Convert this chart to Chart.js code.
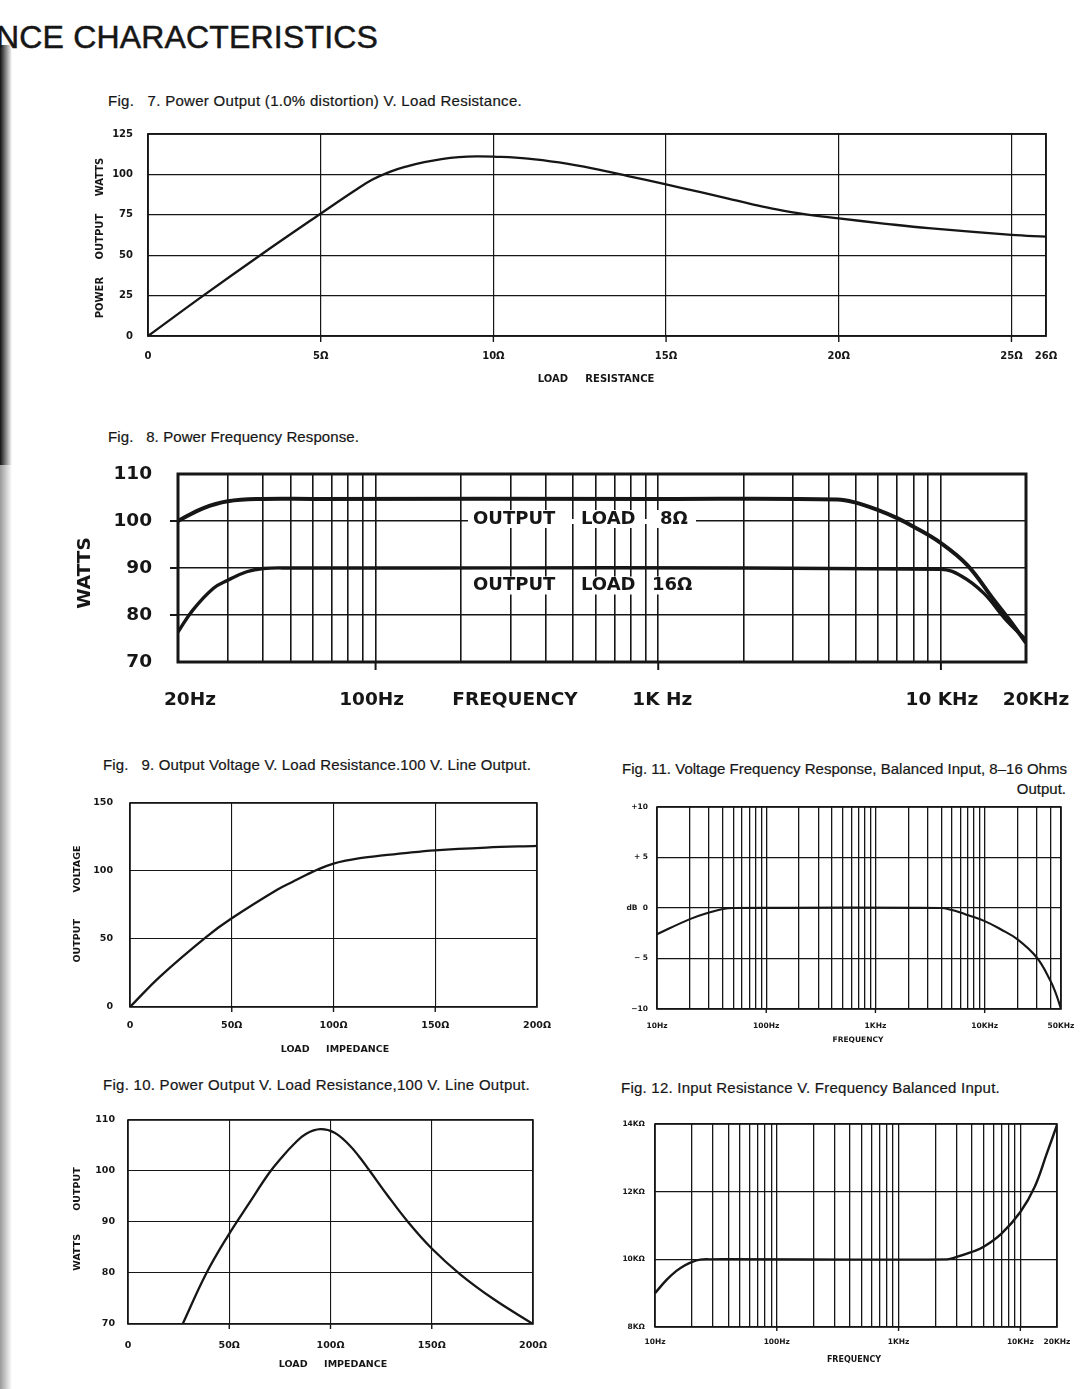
<!DOCTYPE html>
<html lang="en">
<head>
<meta charset="UTF-8">
<title>Performance Characteristics</title>
<script src="https://cdn.jsdelivr.net/npm/chart.js"></script>
<style>
    body { margin: 0; width: 1086px; height: 1389px; position: relative; overflow: hidden; background: #fff; color: #161616; font-family: "Liberation Sans", Arial, sans-serif; }
    .cap { position: absolute; white-space: pre; font-size: 15px; line-height: 16px; -webkit-text-stroke: 0.2px #161616; }
    .head { position: absolute; left: -4px; top: 19px; font-size: 32px; line-height: 36px; white-space: pre; -webkit-text-stroke: 0.5px #161616; }
    .edge { position: absolute; left: 0; width: 12px; }
    canvas { position: absolute; }
</style>
</head>
<body>
<div class="edge" style="top:45px;height:420px;background:linear-gradient(to right,#111,rgba(0,0,0,0))"></div>
<div class="edge" style="top:465px;height:924px;background:linear-gradient(to right,#999,rgba(255,255,255,0))"></div>
<div class="head fit" data-w="382">NCE CHARACTERISTICS</div>
<div class="cap fit" data-w="414" style="left:108px;top:93px">Fig.   7. Power Output (1.0% distortion) V. Load Resistance.</div>
<div class="cap fit" data-w="251" style="left:108px;top:429px">Fig.   8. Power Frequency Response.</div>
<div class="cap fit" data-w="428" style="left:103px;top:757px">Fig.   9. Output Voltage V. Load Resistance.100 V. Line Output.</div>
<div class="cap fit" data-w="427" style="left:103px;top:1077px">Fig. 10. Power Output V. Load Resistance,100 V. Line Output.</div>
<div class="cap fit" data-w="445" style="left:622px;top:761px">Fig. 11. Voltage Frequency Response, Balanced Input, 8–16 Ohms</div>
<div class="cap" style="right:20px;top:781px">Output.</div>
<div class="cap fit" data-w="379" style="left:621px;top:1080px">Fig. 12. Input Resistance V. Frequency Balanced Input.</div>

<canvas id="fig7" width="1026" height="290" style="left:60px;top:110px"></canvas>
<canvas id="fig8" width="1046" height="280" style="left:40px;top:445px"></canvas>
<canvas id="fig9" width="510" height="275" style="left:55px;top:790px"></canvas>
<canvas id="fig10" width="510" height="280" style="left:55px;top:1105px"></canvas>
<canvas id="fig11" width="491" height="255" style="left:595px;top:795px"></canvas>
<canvas id="fig12" width="491" height="270" style="left:595px;top:1110px"></canvas>

<script>
    // ---- Fig 7: power output (1% distortion) vs load resistance
    const fig7Load  = [0, 1.6, 3.25, 4.95, 6.0, 6.5, 7.0, 7.5, 8.0, 8.5, 9.0, 9.5, 10, 11, 11.9, 12.9, 13.9, 15, 16, 16.8, 17.5, 18.2, 19, 20, 21.3, 22.6, 25, 26];
    const fig7Watts = [0, 25, 50, 75, 90.2, 96.8, 101.6, 105, 107.6, 109.5, 110.7, 111.2, 111, 109.8, 107.4, 103.6, 99, 93.8, 89, 85, 81.5, 78.3, 75.4, 72.8, 69.6, 66.7, 62.6, 61.5];
    const fig7XGrid = [0, 5, 10, 15, 20, 25, 26];
    const fig7XLabels = ['0', '5Ω', '10Ω', '15Ω', '20Ω', '25Ω', '26Ω'];
    const fig7YGrid = [0, 25, 50, 75, 100, 125];
    const fig7YLabels = ['0', '25', '50', '75', '100', '125'];

    // ---- Fig 8: power frequency response
    const fig8Freq8   = [20, 24.5, 30, 40, 60, 1000, 4300, 5000, 6000, 7000, 8000, 10000, 12400, 15400, 17400, 20000];
    const fig8Watts8  = [100, 102.7, 104.2, 104.7, 104.7, 104.7, 104.6, 103.9, 102.3, 100.6, 98.8, 95.3, 90.6, 83.2, 79.1, 74.1];
    const fig8Freq16  = [20, 22.6, 26.7, 30, 35, 40, 50, 10000, 11800, 14200, 16800, 20000];
    const fig8Watts16 = [76.4, 81.1, 85.7, 87.4, 89.2, 89.9, 90, 89.7, 88.3, 84.6, 79.3, 74.7];
    const fig8XGrid = [20, 30, 40, 50, 60, 70, 80, 90, 100, 200, 300, 400, 500, 600, 700, 800, 900,
                       1000, 2000, 3000, 4000, 5000, 6000, 7000, 8000, 9000, 10000, 20000];
    const fig8XTicks = [20, 100, 1000, 10000, 20000];
    const fig8XLabels = ['20Hz', '100Hz', '1K Hz', '10 KHz', '20KHz'];
    const fig8YGrid = [70, 80, 90, 100, 110];
    const fig8YLabels = ['70', '80', '90', '100', '110'];

    // ---- Fig 9: output voltage vs load impedance (100 V line)
    const fig9Load  = [0, 14.75, 37.7, 50, 72.1, 80, 87, 93, 100, 106, 113, 121.3, 135, 150, 175, 200];
    const fig9Volts = [0, 22.4, 51.8, 65.2, 86, 92.1, 97.4, 101.6, 105.4, 107.6, 109.5, 111, 113.2, 115.2, 117.2, 118.5];
    const fig9XGrid = [0, 50, 100, 150, 200];
    const fig9XLabels = ['0', '50Ω', '100Ω', '150Ω', '200Ω'];
    const fig9YGrid = [0, 50, 100, 150];
    const fig9YLabels = ['0', '50', '100', '150'];

    // ---- Fig 10: power output vs load impedance (100 V line)
    const fig10Load  = [27, 38.5, 49.2, 60, 69.7, 76, 82, 88, 95, 102, 109, 114, 118.9, 128, 138.5, 150, 163.9, 180.5, 200];
    const fig10Watts = [70, 79.8, 87.2, 93.8, 99.6, 102.7, 105.3, 107.3, 108.2, 107.5, 105.2, 102.9, 100.3, 95.3, 89.9, 84.8, 79.8, 74.9, 70];
    const fig10XGrid = [0, 50, 100, 150, 200];
    const fig10XLabels = ['0', '50Ω', '100Ω', '150Ω', '200Ω'];
    const fig10YGrid = [70, 80, 90, 100, 110];
    const fig10YLabels = ['70', '80', '90', '100', '110'];

    // ---- Fig 11: voltage frequency response, balanced input
    const fig11Freq = [10, 20, 30, 40, 50, 4000, 5000, 6000, 7000, 10000, 14000, 20000, 30000, 40000, 45000, 50000];
    const fig11dB   = [-2.6, -1.1, -0.45, -0.1, 0, 0, -0.2, -0.45, -0.7, -1.3, -2.1, -3.1, -4.9, -7.2, -8.5, -10];
    const fig11XGrid = [10, 20, 30, 40, 50, 60, 70, 80, 90, 100, 200, 300, 400, 500, 600, 700, 800, 900,
                        1000, 2000, 3000, 4000, 5000, 6000, 7000, 8000, 9000, 10000, 20000, 30000, 40000, 50000];
    const fig11XTicks = [10, 100, 1000, 10000, 50000];
    const fig11XLabels = ['10Hz', '100Hz', '1KHz', '10KHz', '50KHz'];
    const fig11YGrid = [-10, -5, 0, 5, 10];
    const fig11YLabels = ['−10', '− 5', 'dB  0', '+ 5', '+10'];

    // ---- Fig 12: input resistance vs frequency, balanced input
    const fig12Freq  = [10, 12.5, 15, 17.5, 20, 23.5, 28, 2500, 3000, 4000, 5000, 7000, 10000, 13100, 16500, 20000];
    const fig12kOhm  = [9.0, 9.4, 9.66, 9.82, 9.92, 9.99, 10, 10, 10.07, 10.22, 10.37, 10.76, 11.4, 12.14, 13.13, 13.97];
    const fig12XGrid = [10, 20, 30, 40, 50, 60, 70, 80, 90, 100, 200, 300, 400, 500, 600, 700, 800, 900,
                        1000, 2000, 3000, 4000, 5000, 6000, 7000, 8000, 9000, 10000, 20000];
    const fig12XTicks = [10, 100, 1000, 10000, 20000];
    const fig12XLabels = ['10Hz', '100Hz', '1KHz', '10KHz', '20KHz'];
    const fig12YGrid = [8, 10, 12, 14];
    const fig12YLabels = ['8KΩ', '10KΩ', '12KΩ', '14KΩ'];

    const INK = '#161616';
    const bold = px => 'bold ' + px + 'px "DejaVu Sans", sans-serif';

    // stretch the printed captions to the width they have on the page
    document.querySelectorAll('.fit').forEach(el => {
        const w = el.getBoundingClientRect().width;
        el.style.letterSpacing = ((+el.dataset.w - w) / el.textContent.length) + 'px';
    });

    // draws frame, stubs, labels and notes through the chart's scales
    function paper(o) {
        return {
            id: 'paper',
            beforeDatasetsDraw(chart) {
                const ctx = chart.ctx, a = chart.chartArea;
                (o.notes || []).forEach(n => {
                    ctx.save();
                    ctx.font = o.noteFont;
                    ctx.textBaseline = 'middle';
                    const y = a.top + n.dy;
                    if (n.band) {
                        ctx.fillStyle = '#fff';
                        ctx.fillRect(a.left + n.band[0], a.top + n.band[1] - 2.5, n.band[2], 5);
                    }
                    n.words.forEach(w => {
                        const x = a.left + w.dx;
                        const wd = ctx.measureText(w.text).width;
                        ctx.fillStyle = '#fff';
                        ctx.fillRect(x - 4, y - 9, wd + 8, 18);
                        ctx.fillStyle = INK;
                        ctx.fillText(w.text, x, y);
                    });
                    ctx.restore();
                });
            },
            afterDraw(chart) {
                const ctx = chart.ctx, a = chart.chartArea;
                const xs = chart.scales.x, ys = chart.scales.y;
                ctx.save();
                ctx.strokeStyle = INK;
                ctx.lineWidth = o.frame;
                ctx.strokeRect(a.left, a.top, a.right - a.left, a.bottom - a.top);
                ctx.lineWidth = o.stubWidth || 1.4;
                (o.xStubs || []).forEach(v => {
                    const x = xs.getPixelForValue(v);
                    ctx.beginPath(); ctx.moveTo(x, a.bottom); ctx.lineTo(x, a.bottom + o.stubLen); ctx.stroke();
                });
                (o.yStubs || []).forEach(v => {
                    const y = ys.getPixelForValue(v);
                    ctx.beginPath(); ctx.moveTo(a.left, y); ctx.lineTo(a.left - o.stubLen, y); ctx.stroke();
                });
                ctx.fillStyle = INK;
                ctx.font = o.tickFont;
                ctx.textBaseline = 'middle';
                ctx.textAlign = 'right';
                o.yValues.forEach((v, i) => ctx.fillText(o.yTexts[i], a.left - o.yGap, ys.getPixelForValue(v)));
                ctx.textAlign = 'center';
                o.xValues.forEach((v, i) => {
                    const shift = o.xShift ? o.xShift[i] : 0;
                    ctx.fillText(o.xTexts[i], xs.getPixelForValue(v) + shift, a.bottom + o.xGap);
                });
                ctx.font = o.titleFont;
                ctx.fillText(o.xTitle, a.left + o.xTitleAt[0], a.bottom + o.xTitleAt[1]);
                if (o.yTitle) {
                    ctx.translate(a.left + o.yTitleAt[0], a.top + o.yTitleAt[1]);
                    ctx.rotate(-Math.PI / 2);
                    ctx.fillText(o.yTitle, 0, 0);
                }
                ctx.restore();
            }
        };
    }

    function axis(type, min, max, grid, lw) {
        return {
            type: type, min: min, max: max,
            afterBuildTicks: s => { s.ticks = grid.map(v => ({ value: v })); },
            ticks: { display: false },
            grid: { color: INK, lineWidth: lw, drawTicks: false },
            border: { display: false }
        };
    }

    function series(xv, yv, width) {
        return {
            data: xv.map((x, i) => ({ x: x, y: yv[i] })),
            borderColor: INK,
            borderWidth: width,
            pointRadius: 0,
            fill: false,
            tension: 0.4
        };
    }

    // plot box is given in page pixels, canvas position is read from its style
    function draw(id, plot, xAxis, yAxis, datasets, deco) {
        var canvas = document.getElementById(id);
        var cl = parseFloat(canvas.style.left), ct = parseFloat(canvas.style.top);
        return new Chart(canvas, {
            type: 'line',
            data: { datasets: datasets },
            options: {
                responsive: false,
                animation: false,
                devicePixelRatio: 1,
                layout: { padding: {
                    left: plot[0] - cl, top: plot[1] - ct,
                    right: cl + canvas.width - plot[2], bottom: ct + canvas.height - plot[3]
                } },
                plugins: { legend: { display: false }, tooltip: { enabled: false } },
                scales: { x: xAxis, y: yAxis }
            },
            plugins: [paper(deco)]
        });
    }

    draw('fig7', [148, 134, 1046, 336],
        axis('linear', 0, 26, fig7XGrid, 1.2),
        axis('linear', 0, 125, fig7YGrid, 1.2),
        [series(fig7Load, fig7Watts, 2.3)],
        { frame: 1.8, tickFont: bold(10), titleFont: bold(10),
          xValues: fig7XGrid, xTexts: fig7XLabels, xGap: 20,
          yValues: fig7YGrid, yTexts: fig7YLabels, yGap: 15,
          xStubs: [5, 10, 15, 20, 25], stubLen: 6,
          xTitle: 'LOAD     RESISTANCE', xTitleAt: [448, 43],
          yTitle: 'POWER     OUTPUT     WATTS', yTitleAt: [-48, 104] });

    draw('fig8', [178, 474, 1026, 662],
        axis('logarithmic', 20, 20000, fig8XGrid, 1.6),
        axis('linear', 70, 110, fig8YGrid, 1.4),
        [series(fig8Freq8, fig8Watts8, 4), series(fig8Freq16, fig8Watts16, 3.4)],
        { frame: 3, tickFont: bold(18.5), titleFont: bold(18.5), noteFont: bold(18),
          xValues: fig8XTicks, xTexts: fig8XLabels, xGap: 38, xShift: [12, -4, 4, 1, 10],
          yValues: fig8YGrid, yTexts: fig8YLabels, yGap: 26,
          xStubs: [100, 1000, 10000], yStubs: [80, 90, 100], stubLen: 8, stubWidth: 2,
          xTitle: 'FREQUENCY', xTitleAt: [337, 38],
          yTitle: 'WATTS', yTitleAt: [-93, 99],
          notes: [
              { dy: 45, band: [290, 47.5, 228], words: [{ text: 'OUTPUT', dx: 295 }, { text: 'LOAD', dx: 403 }, { text: '8Ω', dx: 482 }] },
              { dy: 111.5, words: [{ text: 'OUTPUT', dx: 295 }, { text: 'LOAD', dx: 403 }, { text: '16Ω', dx: 474 }] }
          ] });

    draw('fig9', [130, 803, 537, 1007],
        axis('linear', 0, 200, fig9XGrid, 1.1),
        axis('linear', 0, 150, fig9YGrid, 1.1),
        [series(fig9Load, fig9Volts, 2.3)],
        { frame: 1.6, tickFont: bold(9.5), titleFont: bold(9.5),
          xValues: fig9XGrid, xTexts: fig9XLabels, xGap: 19,
          yValues: fig9YGrid, yTexts: fig9YLabels, yGap: 17,
          xStubs: [50, 100, 150], stubLen: 5,
          xTitle: 'LOAD     IMPEDANCE', xTitleAt: [205, 43],
          yTitle: 'OUTPUT        VOLTAGE', yTitleAt: [-52, 101] });

    draw('fig10', [128, 1120, 533, 1324],
        axis('linear', 0, 200, fig10XGrid, 1.1),
        axis('linear', 70, 110, fig10YGrid, 1.1),
        [series(fig10Load, fig10Watts, 2.3)],
        { frame: 1.6, tickFont: bold(9.5), titleFont: bold(9.5),
          xValues: fig10XGrid, xTexts: fig10XLabels, xGap: 22,
          yValues: fig10YGrid, yTexts: fig10YLabels, yGap: 13,
          xStubs: [50, 100, 150], stubLen: 5,
          xTitle: 'LOAD     IMPEDANCE', xTitleAt: [205, 41],
          yTitle: 'WATTS       OUTPUT', yTitleAt: [-50, 99] });

    draw('fig11', [657, 807, 1061, 1009],
        axis('logarithmic', 10, 50000, fig11XGrid, 1.3),
        axis('linear', -10, 10, fig11YGrid, 1.3),
        [series(fig11Freq, fig11dB, 2.1)],
        { frame: 1.6, tickFont: bold(7.5), titleFont: bold(7.5),
          xValues: fig11XTicks, xTexts: fig11XLabels, xGap: 17,
          yValues: fig11YGrid, yTexts: fig11YLabels, yGap: 9,
          xStubs: [100, 1000, 10000], stubLen: 4,
          xTitle: 'FREQUENCY', xTitleAt: [201, 31] });

    draw('fig12', [655, 1124, 1057, 1327],
        axis('logarithmic', 10, 20000, fig12XGrid, 1.3),
        axis('linear', 8, 14, fig12YGrid, 1.3),
        [series(fig12Freq, fig12kOhm, 2.4)],
        { frame: 1.6, tickFont: bold(7.5), titleFont: bold(8),
          xValues: fig12XTicks, xTexts: fig12XLabels, xGap: 15,
          yValues: fig12YGrid, yTexts: fig12YLabels, yGap: 10,
          xStubs: [100, 1000, 10000], stubLen: 4,
          xTitle: 'FREQUENCY', xTitleAt: [199, 33] });
</script>
</body>
</html>
